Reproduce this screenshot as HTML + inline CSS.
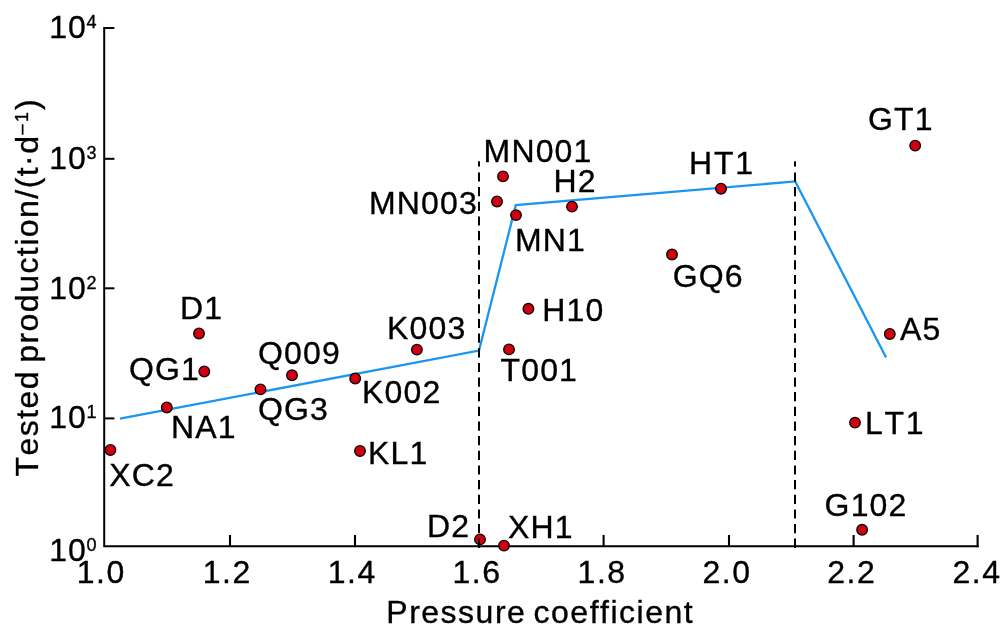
<!DOCTYPE html>
<html><head><meta charset="utf-8"><title>chart</title>
<style>
html,body{margin:0;padding:0;background:#fff;}
body{width:1000px;height:634px;overflow:hidden;}
svg{display:block;will-change:transform;}
text{font-family:"Liberation Sans",sans-serif;fill:#000;stroke:#000;stroke-width:0.35px;font-kerning:none;font-variant-ligatures:none;}
</style></head><body>
<svg width="1000" height="634" viewBox="0 0 1000 634">
<rect width="1000" height="634" fill="#fff"/>

<g stroke="#000" stroke-width="2" fill="none" stroke-linecap="butt">
<path d="M114.4 28H104.2V546.2H978.6"/>
<path d="M104.2 158.8H114.4"/>
<path d="M104.2 288.3H114.4"/>
<path d="M104.2 418.4H114.4"/>
<path d="M230.0 535V546.2" stroke-width="2.1"/>
<path d="M355.0 535V546.2" stroke-width="2.1"/>
<path d="M603.6 535V546.2" stroke-width="2.1"/>
<path d="M729.0 535V546.2" stroke-width="2.1"/>
<path d="M853.6 535V546.2" stroke-width="2.1"/>
<path d="M977.6 535V547.2" stroke-width="2.1"/>
</g>
<path d="M120 418.6L479 350.6L515.8 205.2L795.2 181.4L886.1 357.5" stroke="#1a96f0" stroke-width="2.3" fill="none" stroke-linejoin="miter"/>
<g fill="#d00010" stroke="#0a0000" stroke-width="1.3">
<circle cx="110.4" cy="450.0" r="5.3"/>
<circle cx="166.8" cy="407.5" r="5.3"/>
<circle cx="199" cy="333.5" r="5.3"/>
<circle cx="204.3" cy="371.5" r="5.3"/>
<circle cx="260.5" cy="389.4" r="5.3"/>
<circle cx="292" cy="375.3" r="5.3"/>
<circle cx="355.2" cy="378.5" r="5.3"/>
<circle cx="360" cy="451" r="5.3"/>
<circle cx="416.9" cy="349.6" r="5.3"/>
<circle cx="480" cy="539.4" r="5.3"/>
<circle cx="504" cy="545.6" r="5.3"/>
<circle cx="497" cy="201.5" r="5.3"/>
<circle cx="503" cy="176.4" r="5.3"/>
<circle cx="516" cy="215.1" r="5.3"/>
<circle cx="509" cy="349.4" r="5.3"/>
<circle cx="528.4" cy="308.8" r="5.3"/>
<circle cx="572" cy="206.6" r="5.3"/>
<circle cx="672" cy="254.5" r="5.3"/>
<circle cx="721" cy="188.7" r="5.3"/>
<circle cx="915.2" cy="145.6" r="5.3"/>
<circle cx="889.8" cy="334" r="5.3"/>
<circle cx="855" cy="422.6" r="5.3"/>
<circle cx="862.1" cy="529.8" r="5.3"/>
</g>
<path d="M479 161.2V166.6M479 172.4V181.6M479 187.1V196.2M479 201.7V210.9M479 216.4V225.6M479 231.0V240.2M479 245.7V254.8M479 260.3V269.5M479 274.9V284.1M479 289.6V298.8M479 304.2V313.4M479 318.9V328.1M479 333.6V342.8M479 348.2V357.4M479 362.9V372.1M479 377.5V386.7M479 392.1V401.3M479 406.8V416.0M479 421.5V430.7M479 436.1V445.3M479 450.8V459.9M479 465.4V474.6M479 480.1V489.3M479 494.7V503.9M479 509.4V518.6M479 524.0V533.2M479 538.6V547.9" stroke="#000" stroke-width="2" fill="none"/>
<path d="M795 161.2V166.6M795 172.4V181.6M795 187.1V196.2M795 201.7V210.9M795 216.4V225.6M795 231.0V240.2M795 245.7V254.8M795 260.3V269.5M795 274.9V284.1M795 289.6V298.8M795 304.2V313.4M795 318.9V328.1M795 333.6V342.8M795 348.2V357.4M795 362.9V372.1M795 377.5V386.7M795 392.1V401.3M795 406.8V416.0M795 421.5V430.7M795 436.1V445.3M795 450.8V459.9M795 465.4V474.6M795 480.1V489.3M795 494.7V503.9M795 509.4V518.6M795 524.0V533.2M795 538.6V547.9" stroke="#000" stroke-width="2" fill="none"/>
<g font-size="32" letter-spacing="1.15">
<text x="109.3" y="486">XC2</text>
<text x="171" y="437.6">NA1</text>
<text x="180" y="319">D1</text>
<text x="129" y="380">QG1</text>
<text x="258" y="420">QG3</text>
<text x="258" y="364.3">Q009</text>
<text x="362" y="403">K002</text>
<text x="368" y="464">KL1</text>
<text x="387" y="339">K003</text>
<text x="427" y="536.6">D2</text>
<text x="508" y="538">XH1</text>
<text x="369" y="213.9">MN003</text>
<text x="483.6" y="162.3">MN001</text>
<text x="515" y="250.6">MN1</text>
<text x="500.5" y="381">T001</text>
<text x="542.2" y="320.8">H10</text>
<text x="553.6" y="192.2">H2</text>
<text x="672.7" y="287">GQ6</text>
<text x="689" y="174.2" letter-spacing="1.8">HT1</text>
<text x="868" y="129.8">GT1</text>
<text x="900" y="340">A5</text>
<text x="865" y="434" letter-spacing="1.7">LT1</text>
<text x="824.6" y="515.6">G102</text>
</g>
<g font-size="32" letter-spacing="1.5">
<text x="76.7" y="583.4">1.0</text>
<text x="202.7" y="583.4">1.2</text>
<text x="327.7" y="583.4">1.4</text>
<text x="452.5" y="583.4">1.6</text>
<text x="577.6" y="583.4">1.8</text>
<text x="702.5" y="583.4">2.0</text>
<text x="827.3" y="583.4">2.2</text>
<text x="952.5" y="583.4">2.4</text>
</g>
<g font-size="32" letter-spacing="1">
<text x="49.3" y="37.5">10<tspan font-size="18" dx="-0.3" dy="-9.9">4</tspan></text>
<text x="49.3" y="168.7">10<tspan font-size="18" dx="-0.3" dy="-9.9">3</tspan></text>
<text x="49.3" y="299.2">10<tspan font-size="18" dx="-0.3" dy="-9.9">2</tspan></text>
<text x="49.3" y="428">10<tspan font-size="18" dx="-0.3" dy="-9.9">1</tspan></text>
<text x="49.3" y="561">10<tspan font-size="18" dx="-0.3" dy="-9.9">0</tspan></text>
</g>
<text x="386.3" y="623" font-size="32" letter-spacing="1.5" word-spacing="-3.2">Pressure coefficient</text>
<text transform="translate(37.5,476.5) rotate(-90)" font-size="32" letter-spacing="1.46" word-spacing="-3.2">Tested production/(t·d<tspan font-size="18" dy="-10.1">–</tspan><tspan font-size="18" dy="1" dx="1.1">1</tspan><tspan dy="9.1" dx="0.5">)</tspan></text>
</svg></body></html>
